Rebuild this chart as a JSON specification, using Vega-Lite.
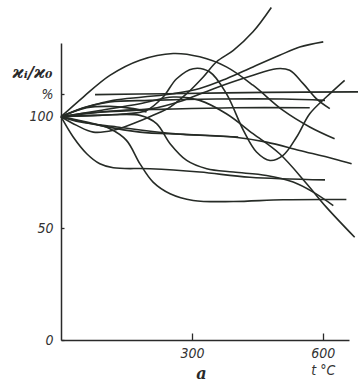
{
  "$schema": "https://vega.github.io/schema/vega-lite/v6.json",
  "width": 288,
  "height": 297,
  "autosize": "none",
  "padding": {"left": 61, "top": 43, "right": 9, "bottom": 46},
  "background": "white",
  "config": {
    "view": {"stroke": null},
    "axis": {
      "grid": false,
      "domainColor": "#2a2a2a",
      "domainWidth": 1.5,
      "tickColor": "#2a2a2a",
      "tickWidth": 1.3,
      "labelFont": "Liberation Sans Narrow, DejaVu Sans Condensed, Liberation Sans",
      "labelFontStyle": "italic",
      "labelFontSize": 14,
      "labelColor": "#333"
    }
  },
  "data": {
    "values": [
      {"c": "1", "t": 0, "v": 100}, {"c": "1", "t": 51, "v": 108.8}, {"c": "1", "t": 112, "v": 118.5}, {"c": "1", "t": 181, "v": 125.3}, {"c": "1", "t": 257, "v": 128.3}, {"c": "1", "t": 318, "v": 126.8}, {"c": "1", "t": 379, "v": 122.3}, {"c": "1", "t": 440, "v": 114.1}, {"c": "1", "t": 509, "v": 102.8}, {"c": "1", "t": 570, "v": 95.4}, {"c": "1", "t": 627, "v": 90.1},
      {"c": "2", "t": 0, "v": 100}, {"c": "2", "t": 36, "v": 96.1}, {"c": "2", "t": 74, "v": 93.1}, {"c": "2", "t": 120, "v": 93.9}, {"c": "2", "t": 166, "v": 96.9}, {"c": "2", "t": 211, "v": 100.6}, {"c": "2", "t": 250, "v": 104.3}, {"c": "2", "t": 288, "v": 110.3}, {"c": "2", "t": 326, "v": 117.8}, {"c": "2", "t": 356, "v": 124.5}, {"c": "2", "t": 395, "v": 129.7}, {"c": "2", "t": 440, "v": 138}, {"c": "2", "t": 482, "v": 148.9},
      {"c": "3", "t": 0, "v": 100}, {"c": "3", "t": 74, "v": 100.6}, {"c": "3", "t": 150, "v": 101.3}, {"c": "3", "t": 196, "v": 102.8}, {"c": "3", "t": 234, "v": 108.8}, {"c": "3", "t": 265, "v": 117}, {"c": "3", "t": 303, "v": 121.5}, {"c": "3", "t": 341, "v": 120}, {"c": "3", "t": 379, "v": 110.3}, {"c": "3", "t": 418, "v": 93.9}, {"c": "3", "t": 448, "v": 84.2}, {"c": "3", "t": 479, "v": 80.4}, {"c": "3", "t": 509, "v": 82.7}, {"c": "3", "t": 540, "v": 90.9}, {"c": "3", "t": 570, "v": 101.3}, {"c": "3", "t": 608, "v": 108.8}, {"c": "3", "t": 650, "v": 116.3},
      {"c": "4", "t": 0, "v": 100}, {"c": "4", "t": 59, "v": 104.3}, {"c": "4", "t": 120, "v": 107.3}, {"c": "4", "t": 188, "v": 108.8}, {"c": "4", "t": 257, "v": 110.3}, {"c": "4", "t": 318, "v": 112.6}, {"c": "4", "t": 379, "v": 117}, {"c": "4", "t": 440, "v": 122.3}, {"c": "4", "t": 501, "v": 127.5}, {"c": "4", "t": 547, "v": 131.2}, {"c": "4", "t": 601, "v": 133.5},
      {"c": "5", "t": 78, "v": 109.9}, {"c": "5", "t": 242, "v": 110.3}, {"c": "5", "t": 471, "v": 110.9}, {"c": "5", "t": 681, "v": 111.1},
      {"c": "6", "t": 0, "v": 100}, {"c": "6", "t": 51, "v": 104}, {"c": "6", "t": 112, "v": 106.6}, {"c": "6", "t": 204, "v": 107.3}, {"c": "6", "t": 356, "v": 107.9}, {"c": "6", "t": 509, "v": 107.9}, {"c": "6", "t": 605, "v": 107.3},
      {"c": "7", "t": 0, "v": 100}, {"c": "7", "t": 59, "v": 101.6}, {"c": "7", "t": 135, "v": 102.8}, {"c": "7", "t": 242, "v": 103.4}, {"c": "7", "t": 395, "v": 104}, {"c": "7", "t": 570, "v": 104},
      {"c": "8", "t": 0, "v": 100}, {"c": "8", "t": 89, "v": 96.1}, {"c": "8", "t": 181, "v": 93.1}, {"c": "8", "t": 280, "v": 92.1}, {"c": "8", "t": 395, "v": 90.9}, {"c": "8", "t": 471, "v": 88.6}, {"c": "8", "t": 547, "v": 84.9}, {"c": "8", "t": 624, "v": 81.2}, {"c": "8", "t": 666, "v": 78.9},
      {"c": "9", "t": 0, "v": 100}, {"c": "9", "t": 28, "v": 90.9}, {"c": "9", "t": 59, "v": 83.4}, {"c": "9", "t": 89, "v": 78.9}, {"c": "9", "t": 120, "v": 77.1}, {"c": "9", "t": 204, "v": 76.7}, {"c": "9", "t": 318, "v": 75.2}, {"c": "9", "t": 433, "v": 72.9}, {"c": "9", "t": 605, "v": 71.7},
      {"c": "10", "t": 0, "v": 100}, {"c": "10", "t": 59, "v": 97.6}, {"c": "10", "t": 112, "v": 94.6}, {"c": "10", "t": 150, "v": 89.4}, {"c": "10", "t": 181, "v": 78.9}, {"c": "10", "t": 211, "v": 70.7}, {"c": "10", "t": 250, "v": 65.5}, {"c": "10", "t": 303, "v": 62.5}, {"c": "10", "t": 395, "v": 62}, {"c": "10", "t": 509, "v": 62.8}, {"c": "10", "t": 654, "v": 62.9},
      {"c": "11", "t": 0, "v": 100}, {"c": "11", "t": 89, "v": 100.6}, {"c": "11", "t": 181, "v": 100.6}, {"c": "11", "t": 219, "v": 96.9}, {"c": "11", "t": 250, "v": 87.9}, {"c": "11", "t": 288, "v": 80.4}, {"c": "11", "t": 334, "v": 76.7}, {"c": "11", "t": 395, "v": 75.2}, {"c": "11", "t": 471, "v": 73.7}, {"c": "11", "t": 532, "v": 70.7}, {"c": "11", "t": 578, "v": 66.2}, {"c": "11", "t": 624, "v": 60.2},
      {"c": "12", "t": 0, "v": 100}, {"c": "12", "t": 89, "v": 102.8}, {"c": "12", "t": 181, "v": 105.8}, {"c": "12", "t": 257, "v": 108.8}, {"c": "12", "t": 318, "v": 107.3}, {"c": "12", "t": 379, "v": 101.3}, {"c": "12", "t": 440, "v": 92.4}, {"c": "12", "t": 501, "v": 83.4}, {"c": "12", "t": 563, "v": 70}, {"c": "12", "t": 608, "v": 59.5}, {"c": "12", "t": 673, "v": 46},
      {"c": "13", "t": 0, "v": 100}, {"c": "13", "t": 90, "v": 102}, {"c": "13", "t": 204, "v": 103.5}, {"c": "13", "t": 280, "v": 107.3}, {"c": "13", "t": 356, "v": 113}, {"c": "13", "t": 433, "v": 118.1}, {"c": "13", "t": 494, "v": 121.5}, {"c": "13", "t": 524, "v": 120.8}, {"c": "13", "t": 555, "v": 114.8}, {"c": "13", "t": 585, "v": 108.1}, {"c": "13", "t": 616, "v": 103.6},
      {"c": "14", "t": 0, "v": 100}, {"c": "14", "t": 44, "v": 97.6}, {"c": "14", "t": 128, "v": 95.4}, {"c": "14", "t": 242, "v": 92.7}, {"c": "14", "t": 406, "v": 90.9},
      {"c": "15", "t": 0, "v": 100}, {"c": "15", "t": 59, "v": 104}, {"c": "15", "t": 112, "v": 104.6}, {"c": "15", "t": 166, "v": 103.6}, {"c": "15", "t": 196, "v": 102.1}
    ]
  },
  "mark": {"type": "line", "interpolate": "catmull-rom", "stroke": "#262b26", "strokeWidth": 1.6, "clip": false},
  "encoding": {
    "detail": {"field": "c", "type": "nominal"},
    "x": {
      "field": "t",
      "type": "quantitative",
      "scale": {"domain": [0, 660], "nice": false, "zero": false},
      "axis": {
        "values": [300, 600],
        "tickSize": -7,
        "labelPadding": 13,
        "labelExpr": "datum.value == 600 ? ['600', 't °C'] : datum.label",
        "labelLineHeight": 17,
        "title": "a",
        "titleFont": "DejaVu Serif",
        "titleFontStyle": "italic",
        "titleFontWeight": "bold",
        "titleFontSize": 16,
        "titleColor": "#2a2a2a",
        "titleX": 140,
        "titleY": 38,
        "titleBaseline": "alphabetic",
        "titleAlign": "center"
      }
    },
    "y": {
      "field": "v",
      "type": "quantitative",
      "scale": {"domain": [0, 133], "nice": false, "zero": false},
      "axis": {
        "values": [0, 50, 100, 110],
        "tickSize": -3,
        "labelPadding": 11,
        "labelExpr": "datum.value == 110 ? '%' : datum.label",
        "title": "ϰᵢ/ϰ₀",
        "titleAngle": 0,
        "titleFont": "DejaVu Serif",
        "titleFontStyle": "italic",
        "titleFontWeight": "bold",
        "titleFontSize": 17,
        "titleColor": "#2a2a2a",
        "titleX": -29,
        "titleY": 34,
        "titleAlign": "center",
        "titleBaseline": "alphabetic",
        "encode": {
          "ticks": {"update": {"opacity": {"signal": "datum.value == 110 ? 0 : 1"}}},
          "labels": {"update": {"dx": {"signal": "datum.value == 110 ? -9 : 0"}}}
        }
      }
    }
  }
}
